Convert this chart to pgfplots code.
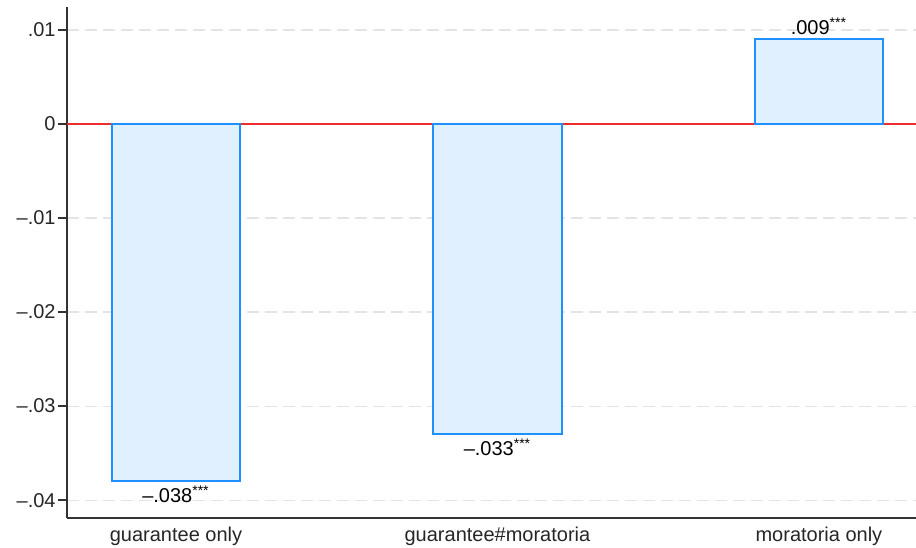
\documentclass[border=0pt]{standalone}
\usepackage{fontspec}
\setmainfont{Liberation Sans}
\usepackage{pgfplots}
\pgfplotsset{compat=1.18}
\definecolor{barfill}{RGB}{225,240,255}
\definecolor{baredge}{RGB}{30,144,255}
\definecolor{zeroline}{RGB}{235,45,45}
\definecolor{gridc}{RGB}{228,228,228}
\begin{document}
\begin{tikzpicture}
\begin{axis}[
  name=ax,
  scale only axis,
  width=424.5pt, height=255.5pt,
  xmin=-0.339, xmax=2.302,
  ymin=-0.0419, ymax=0.01245,
  axis lines*=left,
  axis line style={-, line width=0.8pt, black!80},
  xtick={0,1,2},
  xticklabels={guarantee only, guarantee\#moratoria, moratoria only},
  xtick style={draw=none},
  ytick={-0.04,-0.03,-0.02,-0.01,0,0.01},
  yticklabels={{--.04},{--.03},{--.02},{--.01},0,.01},
  tick align=outside,
  major tick length=4.5pt,
  ytick style={line width=0.8pt, black!80},
  ymajorgrids,
  major grid style={gridc, dash pattern=on 6pt off 3pt, line width=0.6pt},
  tick label style={font=\fontsize{10}{12}\selectfont, text=black!85},
  yticklabel style={inner sep=1pt},
  xticklabel style={inner sep=1pt, yshift=1pt},
  clip=false,
]
\addplot[zeroline, line width=1pt, forget plot] coordinates {(-0.339,0) (2.302,0)};
\addplot[ybar, bar width=0.4, bar shift=0pt, fill=barfill, draw=baredge, line width=1pt]
  coordinates {(0,-0.038) (1,-0.033) (2,0.009)};
\node[below, inner sep=2pt, font=\fontsize{10}{12}\selectfont] at (axis cs:0,-0.038) {--.038\textsuperscript{***}};
\node[below, inner sep=2pt, font=\fontsize{10}{12}\selectfont] at (axis cs:1,-0.033) {--.033\textsuperscript{***}};
\node[above, inner sep=2pt, font=\fontsize{10}{12}\selectfont] at (axis cs:2,0.009) {.009\textsuperscript{***}};
\end{axis}
\pgfresetboundingbox
\path ([shift={(-33.5pt,-14.5pt)}]ax.south west) rectangle ([shift={(0pt,3.5pt)}]ax.north east);
\end{tikzpicture}
\end{document}
